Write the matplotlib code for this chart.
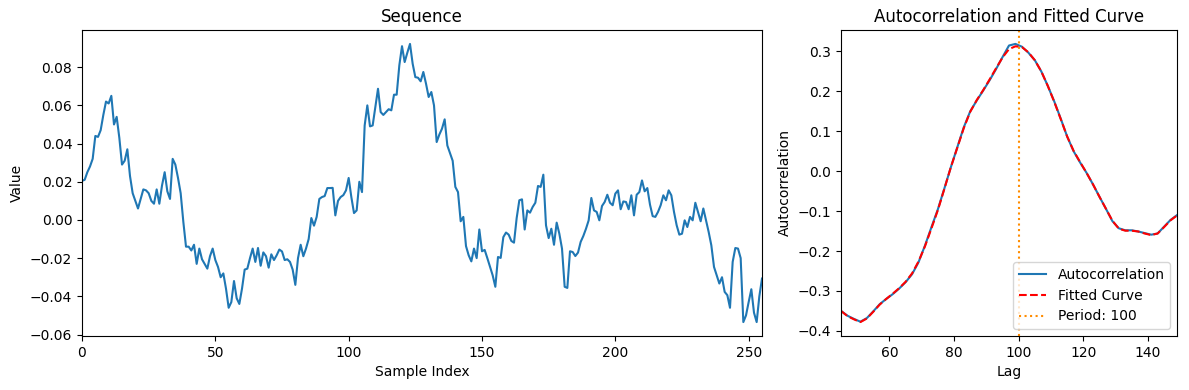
import matplotlib
matplotlib.use("Agg")
import matplotlib.pyplot as plt
import numpy as np

# sequence values (256 samples)
sequence = [
    0.0205, 0.021, 0.025, 0.028, 0.032, 0.044, 0.0435, 0.047, 0.055, 0.062,
    0.061, 0.065, 0.050, 0.054, 0.043, 0.029, 0.031, 0.037, 0.023, 0.014,
    0.010, 0.006, 0.011, 0.016, 0.0155, 0.014, 0.010, 0.0085, 0.016, 0.0085,
    0.018, 0.025, 0.015, 0.011, 0.032, 0.029, 0.022, 0.014, -0.001, -0.014,
    -0.014, -0.016, -0.013, -0.023, -0.015, -0.0206, -0.023, -0.0255, -0.019, -0.015,
    -0.021, -0.0246, -0.030, -0.028, -0.036, -0.046, -0.043, -0.032, -0.041, -0.044,
    -0.036, -0.026, -0.0255, -0.020, -0.015, -0.022, -0.0147, -0.024, -0.017, -0.019,
    -0.025, -0.018, -0.021, -0.0185, -0.0155, -0.0165, -0.021, -0.0206, -0.022, -0.026,
    -0.034, -0.020, -0.013, -0.019, -0.015, -0.010, 0.001, -0.003, 0.0016, 0.011,
    0.012, 0.0125, 0.0167, 0.0167, 0.0168, 0.0024, 0.010, 0.012, 0.013, 0.0155,
    0.022, 0.012, 0.0036, 0.005, 0.020, 0.0146, 0.0495, 0.060, 0.049, 0.0495,
    0.059, 0.0687, 0.0565, 0.055, 0.0565, 0.058, 0.0574, 0.0656, 0.0656, 0.081,
    0.091, 0.0827, 0.0876, 0.0922, 0.0818, 0.0748, 0.0745, 0.0726, 0.0775, 0.0714,
    0.0644, 0.067, 0.060, 0.0408, 0.0447, 0.0478, 0.0527, 0.039, 0.035, 0.031,
    0.0173, 0.0146, -0.0007, 0.0016, -0.0137, -0.0185, -0.0217, -0.015, -0.020, -0.005,
    -0.0164, -0.0157, -0.020, -0.0246, -0.029, -0.035, -0.0194, -0.0199, -0.009, -0.0066,
    -0.0077, -0.011, -0.0119, 0.001, 0.0103, 0.0108, -0.005, 0.005, 0.0038, 0.0068,
    0.009, 0.0178, 0.0173, 0.0237, -0.0028, -0.0095, -0.0046, -0.013, -0.0014, -0.0072,
    -0.015, -0.035, -0.0356, -0.0164, -0.0168, -0.0189, -0.0171, -0.0115, -0.0084, -0.0046,
    -0.0002, 0.0115, 0.005, 0.0042, -0.0002, 0.0073, 0.0094, 0.0132, 0.009, 0.0077,
    0.0138, 0.0155, 0.0056, 0.0097, 0.0094, 0.0056, 0.0129, 0.0024, 0.0132, 0.0146,
    0.0207, 0.015, 0.0167, 0.008, 0.002, 0.0016, 0.0042, 0.0077, 0.0129, 0.0103,
    0.0155, 0.0129, 0.0042, -0.0028, -0.0077, -0.0072, -0.0002, -0.0037, 0.0016, -0.0002,
    0.009, 0.0042, -0.0007, 0.006, -0.0002, -0.0063, -0.0133, -0.0246, -0.029, -0.0333,
    -0.030, -0.0377, -0.0394, -0.046, -0.022, -0.0147, -0.015, -0.020, -0.0535, -0.050,
    -0.043, -0.0363, -0.0486, -0.0535, -0.040, -0.0307,
]

# autocorrelation vs lag, and the fitted curve
lags = [45, 47, 49, 51, 53, 55, 57, 59, 61, 63, 65, 67, 69, 71, 73, 75, 77, 79,
        81, 83, 85, 87, 89, 91, 93, 95, 97, 99, 101, 103, 105, 107, 109, 111,
        113, 115, 117, 119, 121, 123, 125, 127, 129, 131, 133, 135, 137, 139,
        141, 143, 145, 147, 149]
autocorr = [-0.350, -0.362, -0.370, -0.377, -0.368, -0.351, -0.333, -0.320,
            -0.308, -0.294, -0.278, -0.258, -0.228, -0.186, -0.140, -0.095,
            -0.043, 0.010, 0.060, 0.110, 0.150, 0.177, 0.202, 0.228, 0.256,
            0.286, 0.315, 0.319, 0.312, 0.297, 0.278, 0.250, 0.214, 0.175,
            0.132, 0.087, 0.050, 0.022, -0.004, -0.033, -0.064, -0.094, -0.125,
            -0.143, -0.148, -0.148, -0.151, -0.155, -0.159, -0.156, -0.139,
            -0.122, -0.110]
fitted = [-0.350, -0.363, -0.371, -0.378, -0.369, -0.352, -0.334, -0.320,
          -0.307, -0.293, -0.277, -0.256, -0.226, -0.188, -0.143, -0.097,
          -0.044, 0.010, 0.059, 0.108, 0.149, 0.178, 0.203, 0.230, 0.258,
          0.285, 0.306, 0.313, 0.311, 0.298, 0.278, 0.250, 0.214, 0.174,
          0.131, 0.087, 0.051, 0.023, -0.004, -0.033, -0.064, -0.094, -0.124,
          -0.144, -0.149, -0.149, -0.151, -0.156, -0.160, -0.156, -0.140,
          -0.123, -0.111]
period = 100

fig, (ax1, ax2) = plt.subplots(1, 2, figsize=(11.89, 3.9), dpi=100,
                               gridspec_kw={'width_ratios': [2, 1]})

ax1.plot(np.arange(len(sequence)), sequence)
ax1.set_xlim(0, len(sequence) - 1)
ax1.set_title("Sequence")
ax1.set_xlabel("Sample Index")
ax1.set_ylabel("Value")

ax2.plot(lags, autocorr, label="Autocorrelation")
ax2.plot(lags, fitted, 'r--', label="Fitted Curve")
ax2.axvline(period, color='darkorange', linestyle=':', label=f"Period: {period}")
ax2.set_xlim(lags[0], lags[-1])
ax2.set_title("Autocorrelation and Fitted Curve")
ax2.set_xlabel("Lag")
ax2.set_ylabel("Autocorrelation")
ax2.legend(loc='lower right')

plt.tight_layout()
# match the panel placement of the reference
ax1.set_position([82 / 1189, 54 / 390, 680 / 1189, 306 / 390])
ax2.set_position([841 / 1189, 54 / 390, 336 / 1189, 306 / 390])
plt.savefig("out.png")
